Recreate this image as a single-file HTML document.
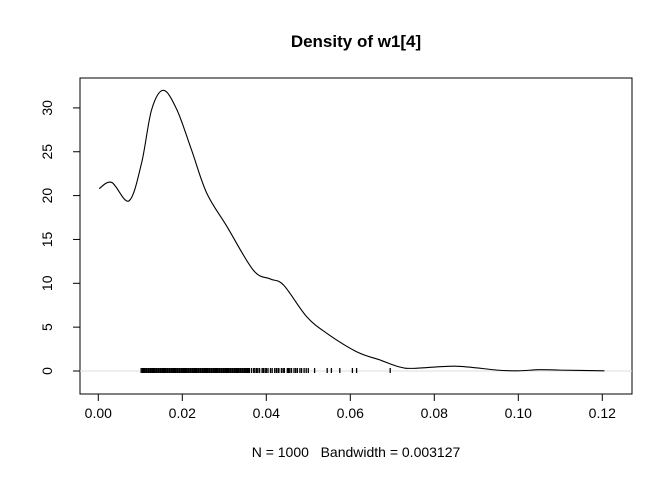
<!DOCTYPE html>
<html><head><meta charset="utf-8"><style>body{margin:0;background:#fff}svg{display:block;font-family:"Liberation Sans",sans-serif}</style></head>
<body>
<svg id="chart" width="672" height="480" viewBox="0 0 672 480">
<rect width="672" height="480" fill="#fff"/>
<text x="356" y="47" text-anchor="middle" font-size="17" font-weight="bold">Density of w1[4]</text>
<rect x="80" y="78" width="552" height="316" fill="none" stroke="#000"/>
<text x="356" y="457" text-anchor="middle" font-size="14" style="white-space:pre">N = 1000   Bandwidth = 0.003127</text>
<g id="xaxis"></g>
<g id="yaxis"></g>
<g id="marks"></g>
</svg>
<script>
const xTicks=[0,0.02,0.04,0.06,0.08,0.10,0.12];
const xTickLabels=["0.00","0.02","0.04","0.06","0.08","0.10","0.12"];
const yTicks=[0,5,10,15,20,25,30];
const densX=[0.0002,0.0032,0.0073,0.0103,0.0127,0.0155,0.0187,0.0222,0.0258,0.0306,0.0369,0.0409,0.0441,0.0496,0.0544,0.0615,0.0671,0.0714,0.075,0.085,0.095,0.100,0.105,0.110,0.1205];
const densY=[20.8,21.5,19.4,23.7,29.8,32.0,29.8,25.2,20.3,16.5,11.5,10.5,9.8,6.2,4.3,2.2,1.25,0.5,0.3,0.55,0.1,0.02,0.15,0.1,0.02];
const rug=[0.0102,0.0105,0.0108,0.011,0.0113,0.0115,0.0118,0.012,0.0123,0.0125,0.0128,0.013,0.0133,0.0135,0.0138,0.014,0.0143,0.0145,0.0148,0.015,0.0153,0.0155,0.0158,0.016,0.0163,0.0165,0.0168,0.017,0.0173,0.0175,0.0178,0.018,0.0183,0.0185,0.0188,0.019,0.0193,0.0195,0.0198,0.02,0.0203,0.0205,0.0208,0.021,0.0213,0.0215,0.0218,0.022,0.0223,0.0225,0.0228,0.023,0.0233,0.0235,0.0238,0.024,0.0243,0.0245,0.0248,0.025,0.0253,0.0255,0.0258,0.026,0.0263,0.0265,0.0268,0.027,0.0273,0.0275,0.0278,0.028,0.0283,0.0285,0.0288,0.029,0.0293,0.0295,0.0298,0.030,0.0303,0.0305,0.0308,0.031,0.0313,0.0315,0.0318,0.032,0.0323,0.0325,0.0328,0.033,0.0333,0.0335,0.0338,0.034,0.0343,0.0345,0.0348,0.035,0.0353,0.0355,0.0358,0.036,0.0365,0.037,0.0373,0.0377,0.038,0.0384,0.039,0.0393,0.0397,0.040,0.0404,0.041,0.0414,0.042,0.0424,0.0428,0.043,0.0436,0.044,0.0443,0.045,0.0453,0.0456,0.046,0.0466,0.047,0.0474,0.048,0.0484,0.049,0.0495,0.050,0.0515,0.0545,0.0555,0.0575,0.0605,0.0615,0.0695];
const sx=v=>98.3+v*4200, sy=v=>371-v*8.77;
const NS="http://www.w3.org/2000/svg";
function mk(t,a,p){const e=document.createElementNS(NS,t);for(const k in a)e.setAttribute(k,a[k]);p.appendChild(e);return e;}
const xa=document.getElementById('xaxis'),ya=document.getElementById('yaxis'),mg=document.getElementById('marks');
mk('line',{x1:sx(xTicks[0]),x2:sx(xTicks[xTicks.length-1]),y1:394,y2:394,stroke:'#000'},xa);
xTicks.forEach((v,i)=>{
 const l=mk('line',{x1:sx(v),x2:sx(v),y1:394,y2:401,stroke:'#000'},xa);
 
 
 const t=mk('text',{x:sx(v),y:418,'text-anchor':'middle','font-size':14},xa);t.textContent=xTickLabels[i];
 
 
});
mk('line',{x1:80,x2:80,y1:sy(yTicks[0]),y2:sy(yTicks[yTicks.length-1]),stroke:'#000'},ya);
yTicks.forEach(v=>{
 const l=mk('line',{x1:73,x2:80,y1:sy(v),y2:sy(v),stroke:'#000'},ya);
 
 
 const t=mk('text',{x:0,y:0,'text-anchor':'middle','font-size':14,transform:`translate(52,${sy(v)}) rotate(-90)`},ya);t.textContent=String(v);
 
 
});
const base=mk('line',{x1:80,x2:632,y1:sy(0),y2:sy(0),stroke:'#ddd'},mg);


const rg=mk('g',{},mg);


rug.forEach(v=>{const r=mk('line',{x1:sx(v),x2:sx(v),y1:sy(0)-3,y2:sy(0)+2,stroke:'#000','stroke-width':1.3},rg);
 
 });
const pts=densX.map((x,i)=>[sx(x),sy(densY[i])]);
let d=`M${pts[0][0]},${pts[0][1]}`;
for(let i=0;i<pts.length-1;i++){const p0=pts[Math.max(0,i-1)],p1=pts[i],p2=pts[i+1],p3=pts[Math.min(pts.length-1,i+2)];
 d+=` C${p1[0]+(p2[0]-p0[0])/6},${p1[1]+(p2[1]-p0[1])/6} ${p2[0]-(p3[0]-p1[0])/6},${p2[1]-(p3[1]-p1[1])/6} ${p2[0]},${p2[1]}`;}
const ln=mk('path',{d:d,fill:'none',stroke:'#000','stroke-width':1.1},mg);


</script>
</body></html>
